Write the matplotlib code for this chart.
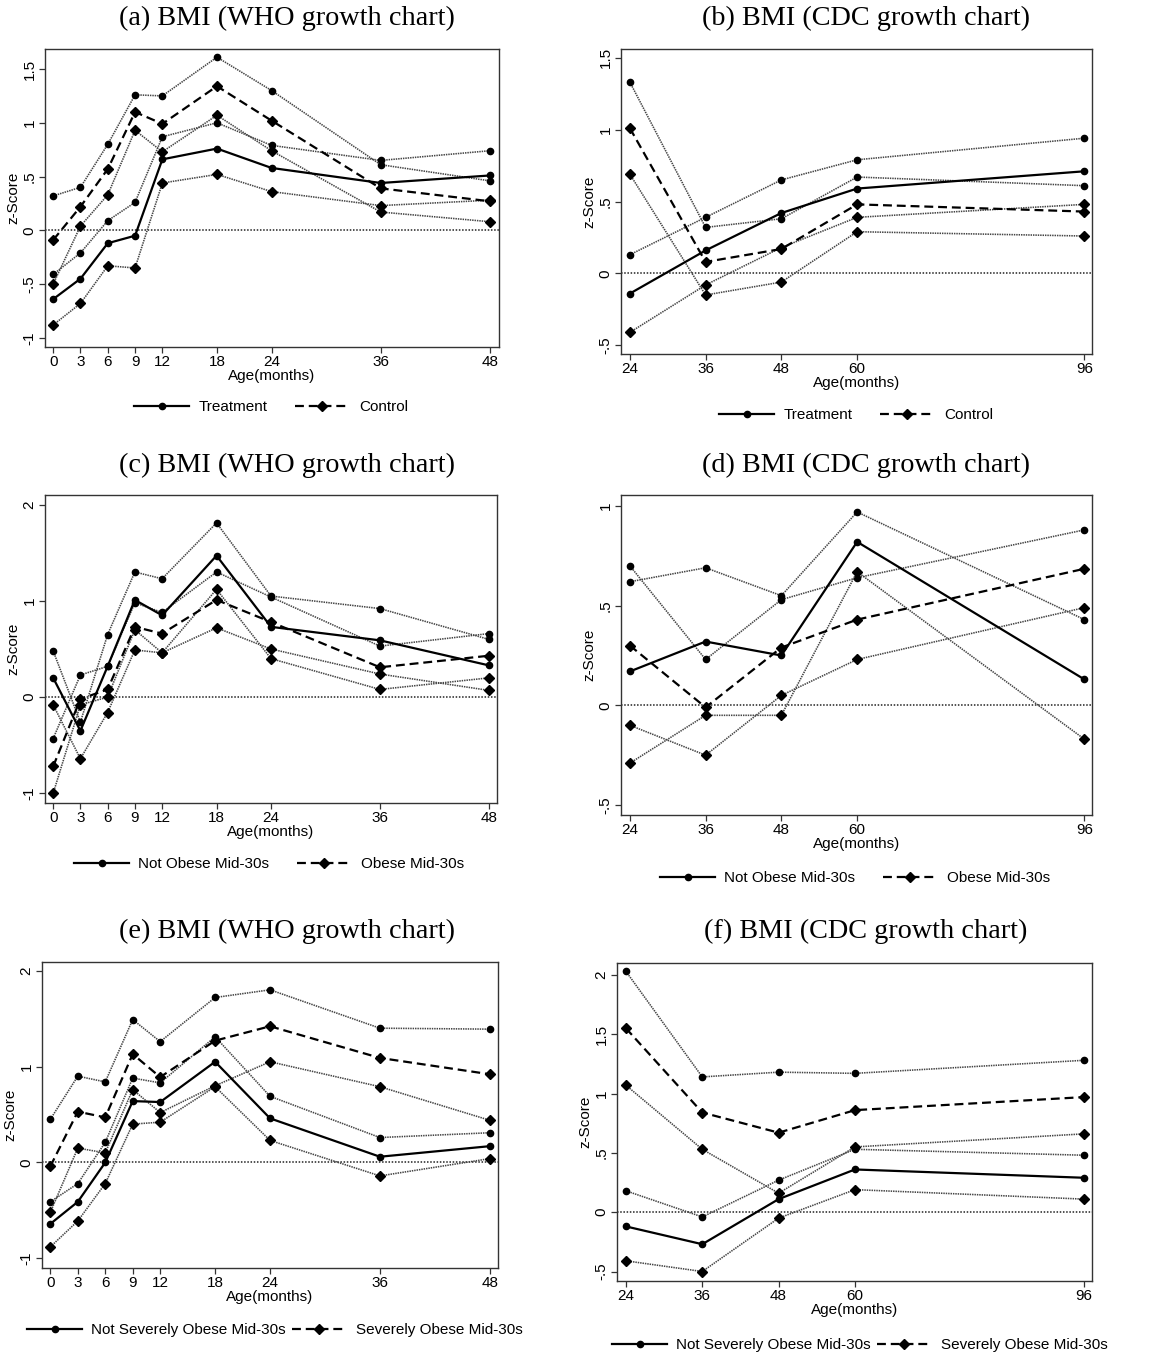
import matplotlib

matplotlib.use("Agg")
import matplotlib.pyplot as plt
from matplotlib.lines import Line2D

W, H = 1157, 1353
SANS = "Liberation Sans"
SERIF = "Liberation Serif"

# ---- data ------------------------------------------------------------------
who_age = [0, 3, 6, 9, 12, 18, 24, 36, 48]
cdc_age = [24, 36, 48, 60, 96]

# (a) WHO, treatment vs control
a_treat = [-0.64, -0.45, -0.12, -0.05, 0.66, 0.76, 0.58, 0.44, 0.51]
a_ctrl = [-0.09, 0.22, 0.57, 1.10, 0.99, 1.34, 1.02, 0.39, 0.27]
a_ci_c1 = [0.32, 0.40, 0.80, 1.26, 1.25, 1.61, 1.30, 0.61, 0.46]
a_ci_c2 = [-0.41, -0.21, 0.09, 0.26, 0.87, 1.00, 0.79, 0.65, 0.74]
a_ci_d1 = [-0.50, 0.04, 0.33, 0.93, 0.73, 1.07, 0.74, 0.17, 0.08]
a_ci_d2 = [-0.88, -0.68, -0.33, -0.35, 0.44, 0.52, 0.36, 0.23, 0.28]

# (b) CDC, treatment vs control
b_treat = [-0.14, 0.16, 0.42, 0.59, 0.71]
b_ctrl = [1.01, 0.08, 0.17, 0.48, 0.43]
b_ci_c1 = [1.33, 0.32, 0.38, 0.67, 0.61]
b_ci_c2 = [0.13, 0.39, 0.65, 0.79, 0.94]
b_ci_d1 = [0.69, -0.15, -0.06, 0.29, 0.26]
b_ci_d2 = [-0.41, -0.08, 0.18, 0.39, 0.48]

# (c) WHO, not obese vs obese mid-30s
c_nob = [0.20, -0.35, 0.32, 1.01, 0.85, 1.47, 0.73, 0.59, 0.33]
c_ob = [-0.72, -0.02, 0.08, 0.73, 0.66, 1.01, 0.78, 0.31, 0.43]
c_ci_c1 = [0.48, -0.26, 0.65, 1.30, 1.23, 1.81, 1.05, 0.92, 0.60]
c_ci_c2 = [-0.43, 0.23, 0.32, 0.98, 0.88, 1.30, 1.04, 0.53, 0.66]
c_ci_d1 = [-0.08, -0.64, -0.16, 0.49, 0.46, 0.72, 0.50, 0.24, 0.07]
c_ci_d2 = [-1.00, -0.08, 0.00, 0.70, 0.46, 1.12, 0.40, 0.08, 0.20]

# (d) CDC, not obese vs obese mid-30s
d_nob = [0.17, 0.32, 0.25, 0.82, 0.13]
d_ob = [0.30, -0.01, 0.29, 0.43, 0.685]
d_ci_c1 = [0.70, 0.23, 0.53, 0.64, 0.88]
d_ci_c2 = [0.62, 0.69, 0.55, 0.97, 0.43]
d_ci_d1 = [-0.10, -0.25, 0.05, 0.23, 0.49]
d_ci_d2 = [-0.29, -0.05, -0.05, 0.67, -0.17]

# (e) WHO, not severely obese vs severely obese mid-30s
e_nsev = [-0.64, -0.41, 0.00, 0.64, 0.63, 1.05, 0.46, 0.06, 0.17]
e_sev = [-0.04, 0.53, 0.47, 1.13, 0.89, 1.27, 1.42, 1.09, 0.92]
e_ci_c1 = [0.45, 0.90, 0.84, 1.49, 1.26, 1.72, 1.80, 1.40, 1.39]
e_ci_c2 = [-0.41, -0.22, 0.21, 0.88, 0.83, 1.31, 0.69, 0.26, 0.31]
e_ci_d1 = [-0.52, 0.15, 0.10, 0.76, 0.52, 0.80, 1.05, 0.79, 0.44]
e_ci_d2 = [-0.88, -0.61, -0.22, 0.40, 0.42, 0.79, 0.23, -0.14, 0.04]

# (f) CDC, not severely obese vs severely obese mid-30s
f_nsev = [-0.12, -0.27, 0.11, 0.36, 0.29]
f_sev = [1.55, 0.84, 0.67, 0.86, 0.97]
f_ci_c1 = [2.03, 1.14, 1.18, 1.17, 1.28]
f_ci_c2 = [0.18, -0.04, 0.27, 0.53, 0.48]
f_ci_d1 = [1.07, 0.53, 0.16, 0.55, 0.66]
f_ci_d2 = [-0.41, -0.50, -0.05, 0.19, 0.11]

LAB_TC = ["Treatment", "Control"]
LAB_OB = ["Not Obese Mid-30s", "Obese Mid-30s"]
LAB_SEV = ["Not Severely Obese Mid-30s", "Severely Obese Mid-30s"]

MAIN_KW = dict(color="black", lw=1.6)
DASH = (0, (4.0, 2.2))
CI_KW = dict(color="#444444", lw=1.15, ls=(0, (0.9, 0.6)))
MS_O, MS_D = 4.5, 5.4


def stata_fmt(v):
    s = ("%g" % v)
    if s.startswith("0.") and len(s) > 2:
        s = s[1:]
    s = s.replace("-0.", "-.")
    return s


def rect(x0, y0, x1, y1):
    return [x0 / W, 1 - y1 / H, (x1 - x0) / W, (y1 - y0) / H]


fig = plt.figure(figsize=(W / 100, H / 100), dpi=100)


def panel(box, title_xy, leg_xy, age, xlim, ylim, yticks, series, labels, colsp):
    ax = fig.add_axes(rect(*box))
    m1, m2, c1, c2, d1, d2 = series
    for vals in (c1, c2):
        ax.plot(age, vals, marker="o", ms=MS_O, mfc="black", mec="black", zorder=2, **CI_KW)
    for vals in (d1, d2):
        ax.plot(age, vals, marker="D", ms=MS_D, mfc="black", mec="black", zorder=2, **CI_KW)
    ax.axhline(0, color="#222222", lw=1.1, ls=(0, (1, 1.1)), zorder=1)
    ax.plot(age, m1, marker="o", ms=MS_O, zorder=3, **MAIN_KW)
    ax.plot(age, m2, marker="D", ms=MS_D, ls=DASH, zorder=3, **MAIN_KW)

    ax.set_xlim(*xlim)
    ax.set_ylim(*ylim)
    ax.set_xticks(age)
    ax.set_xticklabels([str(a) for a in age], fontsize=11, family=SANS)
    ax.set_yticks(yticks)
    ax.set_yticklabels([stata_fmt(v) for v in yticks], fontsize=11, family=SANS,
                       rotation=90, va="center")
    ax.tick_params(direction="out", length=4, width=0.9, color="#333333", pad=2)
    for sp in ax.spines.values():
        sp.set_color("#333333")
        sp.set_linewidth(1.0)
    ax.set_xlabel("Age(months)", fontsize=11, family=SANS, labelpad=0)
    ax.set_ylabel("z-Score", fontsize=11, family=SANS, labelpad=2)

    fig.text(title_xy[0] / W, 1 - title_xy[1] / H, title_xy[2], ha="center", va="center",
             fontsize=20.3, family=SERIF)
    handles = [Line2D([], [], marker="o", ms=MS_O, **MAIN_KW),
               Line2D([], [], marker="D", ms=MS_D, ls=DASH, **MAIN_KW)]
    fig.legend(handles, labels, loc="center", bbox_to_anchor=(leg_xy[0] / W, 1 - leg_xy[1] / H),
               ncol=2, frameon=False, handlelength=3.6, handletextpad=0.6,
               columnspacing=colsp, prop=dict(family=SANS, size=11))
    return ax


panel((45, 49, 499, 347), (287, 18, "(a) BMI (WHO growth chart)"), (271, 407),
      who_age, (-0.9, 49.0), (-1.085, 1.686), [-1, -0.5, 0, 0.5, 1, 1.5],
      (a_treat, a_ctrl, a_ci_c1, a_ci_c2, a_ci_d1, a_ci_d2), LAB_TC, 1.8)
panel((621, 49, 1092, 354), (866, 18, "(b) BMI (CDC growth chart)"), (856, 415),
      cdc_age, (22.6, 97.2), (-0.56, 1.56), [-0.5, 0, 0.5, 1, 1.5],
      (b_treat, b_ctrl, b_ci_c1, b_ci_c2, b_ci_d1, b_ci_d2), LAB_TC, 1.8)
panel((45, 495, 497, 803), (287, 465, "(c) BMI (WHO growth chart)"), (269, 864),
      who_age, (-0.9, 48.9), (-1.10, 2.10), [-1, 0, 1, 2],
      (c_nob, c_ob, c_ci_c1, c_ci_c2, c_ci_d1, c_ci_d2), LAB_OB, 1.8)
panel((621, 495, 1092, 815), (866, 465, "(d) BMI (CDC growth chart)"), (855, 878),
      cdc_age, (22.6, 97.2), (-0.55, 1.055), [-0.5, 0, 0.5, 1],
      (d_nob, d_ob, d_ci_c1, d_ci_c2, d_ci_d1, d_ci_d2), LAB_OB, 1.8)
panel((42, 962, 498, 1268), (287, 931, "(e) BMI (WHO growth chart)"), (275, 1330),
      who_age, (-0.91, 48.9), (-1.10, 2.09), [-1, 0, 1, 2],
      (e_nsev, e_sev, e_ci_c1, e_ci_c2, e_ci_d1, e_ci_d2), LAB_SEV, 0.4)
panel((617, 963, 1092, 1281), (866, 931, "(f) BMI (CDC growth chart)"), (860, 1345),
      cdc_age, (22.6, 97.25), (-0.58, 2.10), [-0.5, 0, 0.5, 1, 1.5, 2],
      (f_nsev, f_sev, f_ci_c1, f_ci_c2, f_ci_d1, f_ci_d2), LAB_SEV, 0.4)

fig.savefig("out.png", dpi=100, facecolor="white")
